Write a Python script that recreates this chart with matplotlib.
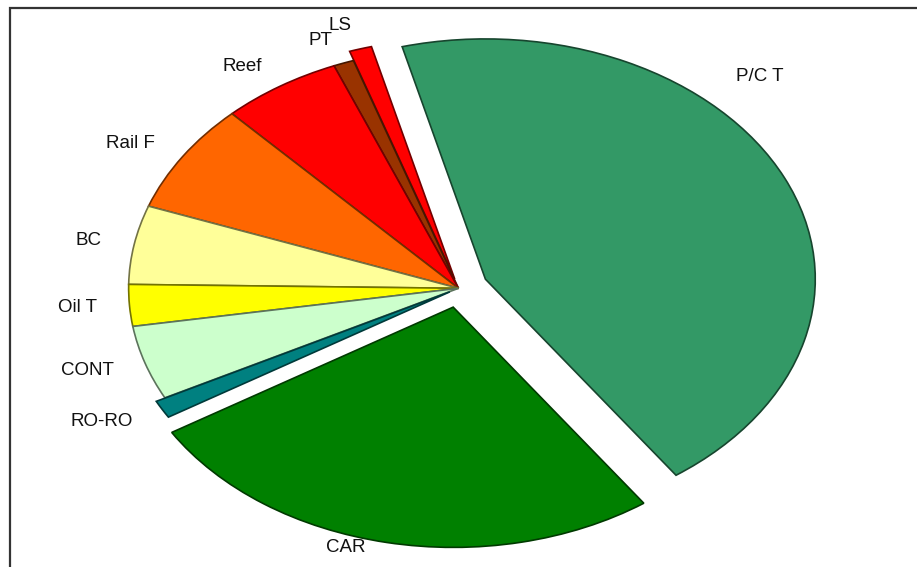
import matplotlib
matplotlib.use('Agg')
import matplotlib.pyplot as plt
import numpy as np
from matplotlib.colors import to_rgb
from matplotlib.patches import Rectangle

plt.rcParams['font.family'] = ['Liberation Sans', 'DejaVu Sans']

# slice shares (%), counter-clockwise from P/C T
labels = ['P/C T', 'LS', 'PT', 'Reef', 'Rail F', 'BC', 'Oil T', 'CONT', 'RO-RO', 'CAR']
shares = [44.3, 1.1, 1.0, 5.9, 7.4, 5.3, 2.8, 5.0, 1.2, 26.1]
colors = ['#339966', '#FF0000', '#993300', '#FF0000', '#FF6600',
          '#FFFF99', '#FFFF00', '#CCFFCC', '#008080', '#008000']
explode = [0.09, 0.04, 0, 0, 0, 0, 0, 0, 0.03, 0.08]

fig = plt.figure(figsize=(9.17, 5.67), dpi=100)
ax = fig.add_axes([0, 0, 1, 1])

wedges, texts = ax.pie(shares, labels=labels, colors=colors, explode=explode,
                       startangle=-54.7, counterclock=True, labeldistance=1.1,
                       textprops={'fontsize': 13.5, 'color': '#111111'})
for w, c in zip(wedges, colors):
    r, g, b = to_rgb(c)
    w.set_edgecolor((r * 0.45, g * 0.45, b * 0.45))
    w.set_linewidth(1.2)

# the P/C T label sits higher up than its mid angle
t = texts[0]
t.set_position((0.84, 0.88))
t.set_horizontalalignment('left')

# the CAR label sits just under the bottom of its slice
w = wedges[-1]
ang = np.deg2rad((w.theta1 + w.theta2) / 2 - 6)
texts[-1].set_position((1.13 * np.cos(ang), 1.13 * np.sin(ang)))
texts[-1].set_horizontalalignment('center')

# pie is stretched horizontally in the original
ax.set_aspect('auto')
ax.set_xlim(-1.39, 1.39)
ax.set_ylim(-1.16, 1.2)

# partial frame around the chart
fig.patches.append(Rectangle((10 / 917, -0.1), 1.2, 1.1 - 8 / 567,
                             transform=fig.transFigure, fill=False,
                             edgecolor='#333333', linewidth=1.6))

fig.savefig('out.png', dpi=100)
